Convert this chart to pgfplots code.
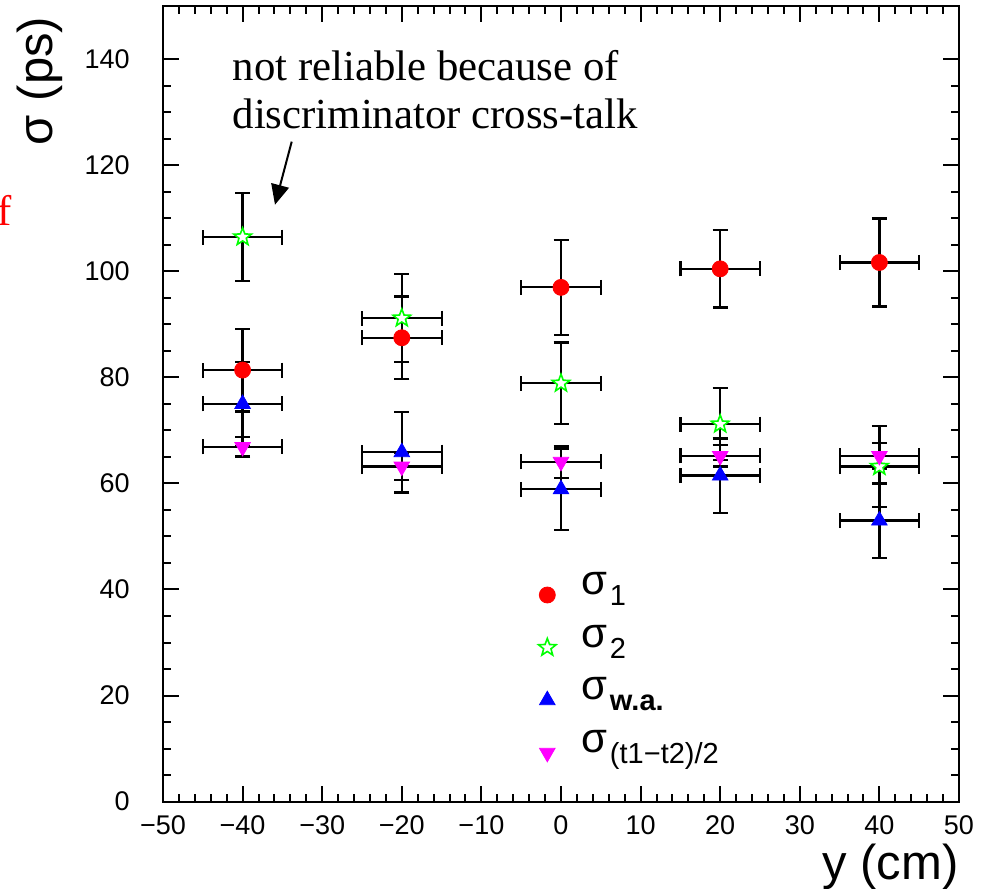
\documentclass[border=0pt]{standalone}
\usepackage{fontspec}
\setmainfont{Liberation Sans}
\newfontfamily\annotfont{Liberation Serif}
\usepackage{pgfplots}
\usepackage{pgfplotstable}
\pgfplotsset{compat=1.18}
\usetikzlibrary{arrows.meta}

\definecolor{rootred}{RGB}{255,0,0}
\definecolor{rootgreen}{RGB}{0,255,0}
\definecolor{rootblue}{RGB}{0,0,255}
\definecolor{rootmagenta}{RGB}{255,0,255}

% open five-pointed star marker
\pgfdeclareplotmark{openstar}{%
  \pgfpathmoveto{\pgfpointpolar{90}{\pgfplotmarksize}}%
  \pgfpathlineto{\pgfpointpolar{126}{0.42\pgfplotmarksize}}%
  \pgfpathlineto{\pgfpointpolar{162}{\pgfplotmarksize}}%
  \pgfpathlineto{\pgfpointpolar{198}{0.42\pgfplotmarksize}}%
  \pgfpathlineto{\pgfpointpolar{234}{\pgfplotmarksize}}%
  \pgfpathlineto{\pgfpointpolar{270}{0.42\pgfplotmarksize}}%
  \pgfpathlineto{\pgfpointpolar{306}{\pgfplotmarksize}}%
  \pgfpathlineto{\pgfpointpolar{342}{0.42\pgfplotmarksize}}%
  \pgfpathlineto{\pgfpointpolar{18}{\pgfplotmarksize}}%
  \pgfpathlineto{\pgfpointpolar{54}{0.42\pgfplotmarksize}}%
  \pgfpathclose
  \pgfusepathqfillstroke}

% columns: position, resolution, half-width of the y bin, error on resolution
\pgfplotstableread{
x    y      ex  ey
-40  81.4   5   7.8
-20  87.5   5   7.8
0    97.0   5   9.0
20   100.5  5   7.3
40   101.7  5   8.3
}\sigone
\pgfplotstableread{
x    y      ex  ey
-40  106.5  5   8.3
-20  91.2   5   8.3
0    78.9   5   7.7
20   71.2   5   6.8
40   63.2   5   7.6
}\sigtwo
\pgfplotstableread{
x    y      ex  ey
-40  75.0   5   7.9
-20  65.9   5   7.6
0    58.9   5   7.7
20   61.5   5   7.0
40   53.0   5   7.0
}\sigwa
\pgfplotstableread{
x    y      ex  ey
-40  66.9   5   1.8
-20  63.2   5   2.5
0    64.1   5   3.0
20   65.2   5   2.0
40   65.2   5   2.5
}\sigdiff

\newcommand{\sig}{{\fontsize{21}{23}\selectfont σ}}
\newcommand{\sub}[1]{\raisebox{-5.5pt}{\fontsize{14.5}{16}\selectfont\hspace{1.5pt}#1}}

\begin{document}
\begin{tikzpicture}
\useasboundingbox (-81.5pt,-43.25pt) rectangle (413pt,400.75pt);
\begin{axis}[
  at={(0,0)}, anchor=south west,
  scale only axis,
  width=398pt, height=397.5pt,
  xmin=-50, xmax=50, ymin=0, ymax=150,
  clip=false,
  axis line style={line width=1pt},
  tick align=inside,
  major tick length=8pt, minor tick length=4pt,
  every tick/.style={black, line width=1pt},
  xtick={-50,-40,...,50},
  xticklabels={−50,−40,−30,−20,−10,0,10,20,30,40,50},
  minor x tick num=4,
  ytick={0,20,...,140},
  minor y tick num=3,
  /pgf/number format/assume math mode=true,
  ticklabel style={font=\fontsize{13.5}{15}\selectfont},
  xticklabel style={inner sep=0pt, anchor=north, yshift=-6.75pt},
  yticklabel style={inner sep=0pt, anchor=east, xshift=-16.5pt},
  xlabel={y (cm)},
  ylabel={σ (ps)},
  label style={font=\fontsize{24.5}{26}\selectfont},
  xlabel style={at={(axis description cs:1,-0.098)}, anchor=base east, inner sep=0pt},
  ylabel style={at={(axis description cs:-0.1545,0.9875)}, anchor=east, inner sep=0pt},
  error bars/error bar style={black, line width=1.1pt},
  error bars/error mark options={rotate=90, black, line width=1.1pt, mark size=3.75pt},
  legend cell align=left,
  legend style={draw=none, fill=none, inner sep=0pt,
    at={(axis cs:-2.87,44)}, anchor=north west,
    nodes={inner sep=0pt, text height=13pt, text depth=13.3pt},
    /tikz/every odd column/.append style={column sep=12.5pt}},
]
\addplot[only marks, mark=*, mark size=4pt, color=rootred,
  error bars/.cd, x dir=both, x explicit, y dir=both, y explicit]
  table[x=x, y=y, x error=ex, y error=ey]{\sigone};
\addlegendentry{\sig\sub{1}}
\addplot[only marks, mark=openstar, mark size=4.6pt, color=rootgreen,
  mark options={fill=white, line width=0.8pt},
  error bars/.cd, x dir=both, x explicit, y dir=both, y explicit]
  table[x=x, y=y, x error=ex, y error=ey]{\sigtwo};
\addlegendentry{\sig\sub{2}}
\addplot[only marks, mark=triangle*, mark size=4.5pt, color=rootblue,
  error bars/.cd, x dir=both, x explicit, y dir=both, y explicit]
  table[x=x, y=y, x error=ex, y error=ey]{\sigwa};
\addlegendentry{\sig\sub{\textbf{w.a.}}}
\addplot[only marks, mark=triangle*, mark size=4.5pt, color=rootmagenta,
  mark options={rotate=180},
  error bars/.cd, x dir=both, x explicit, y dir=both, y explicit]
  table[x=x, y=y, x error=ex, y error=ey]{\sigdiff};
\addlegendentry{\sig\sub{(t1−t2)/2}}

% annotation on the first sigma_2 point
\node[font=\annotfont\fontsize{21.4}{24}\selectfont, anchor=base west, inner sep=0pt]
  at (axis cs:-41.3,136.1) {not reliable because of};
\node[font=\annotfont\fontsize{21.4}{24}\selectfont, anchor=base west, inner sep=0pt]
  at (axis cs:-41.3,127.0) {discriminator cross-talk};
\draw[line width=1pt, -{Triangle[length=10pt, width=9pt]}]
  (axis cs:-33.83,124.5) -- (axis cs:-35.93,112.6);
\node[font=\annotfont\fontsize{21.4}{24}\selectfont, text=rootred, anchor=base west, inner sep=0pt]
  at (axis cs:-70.9,108.6) {f};
\end{axis}
\end{tikzpicture}
\end{document}
